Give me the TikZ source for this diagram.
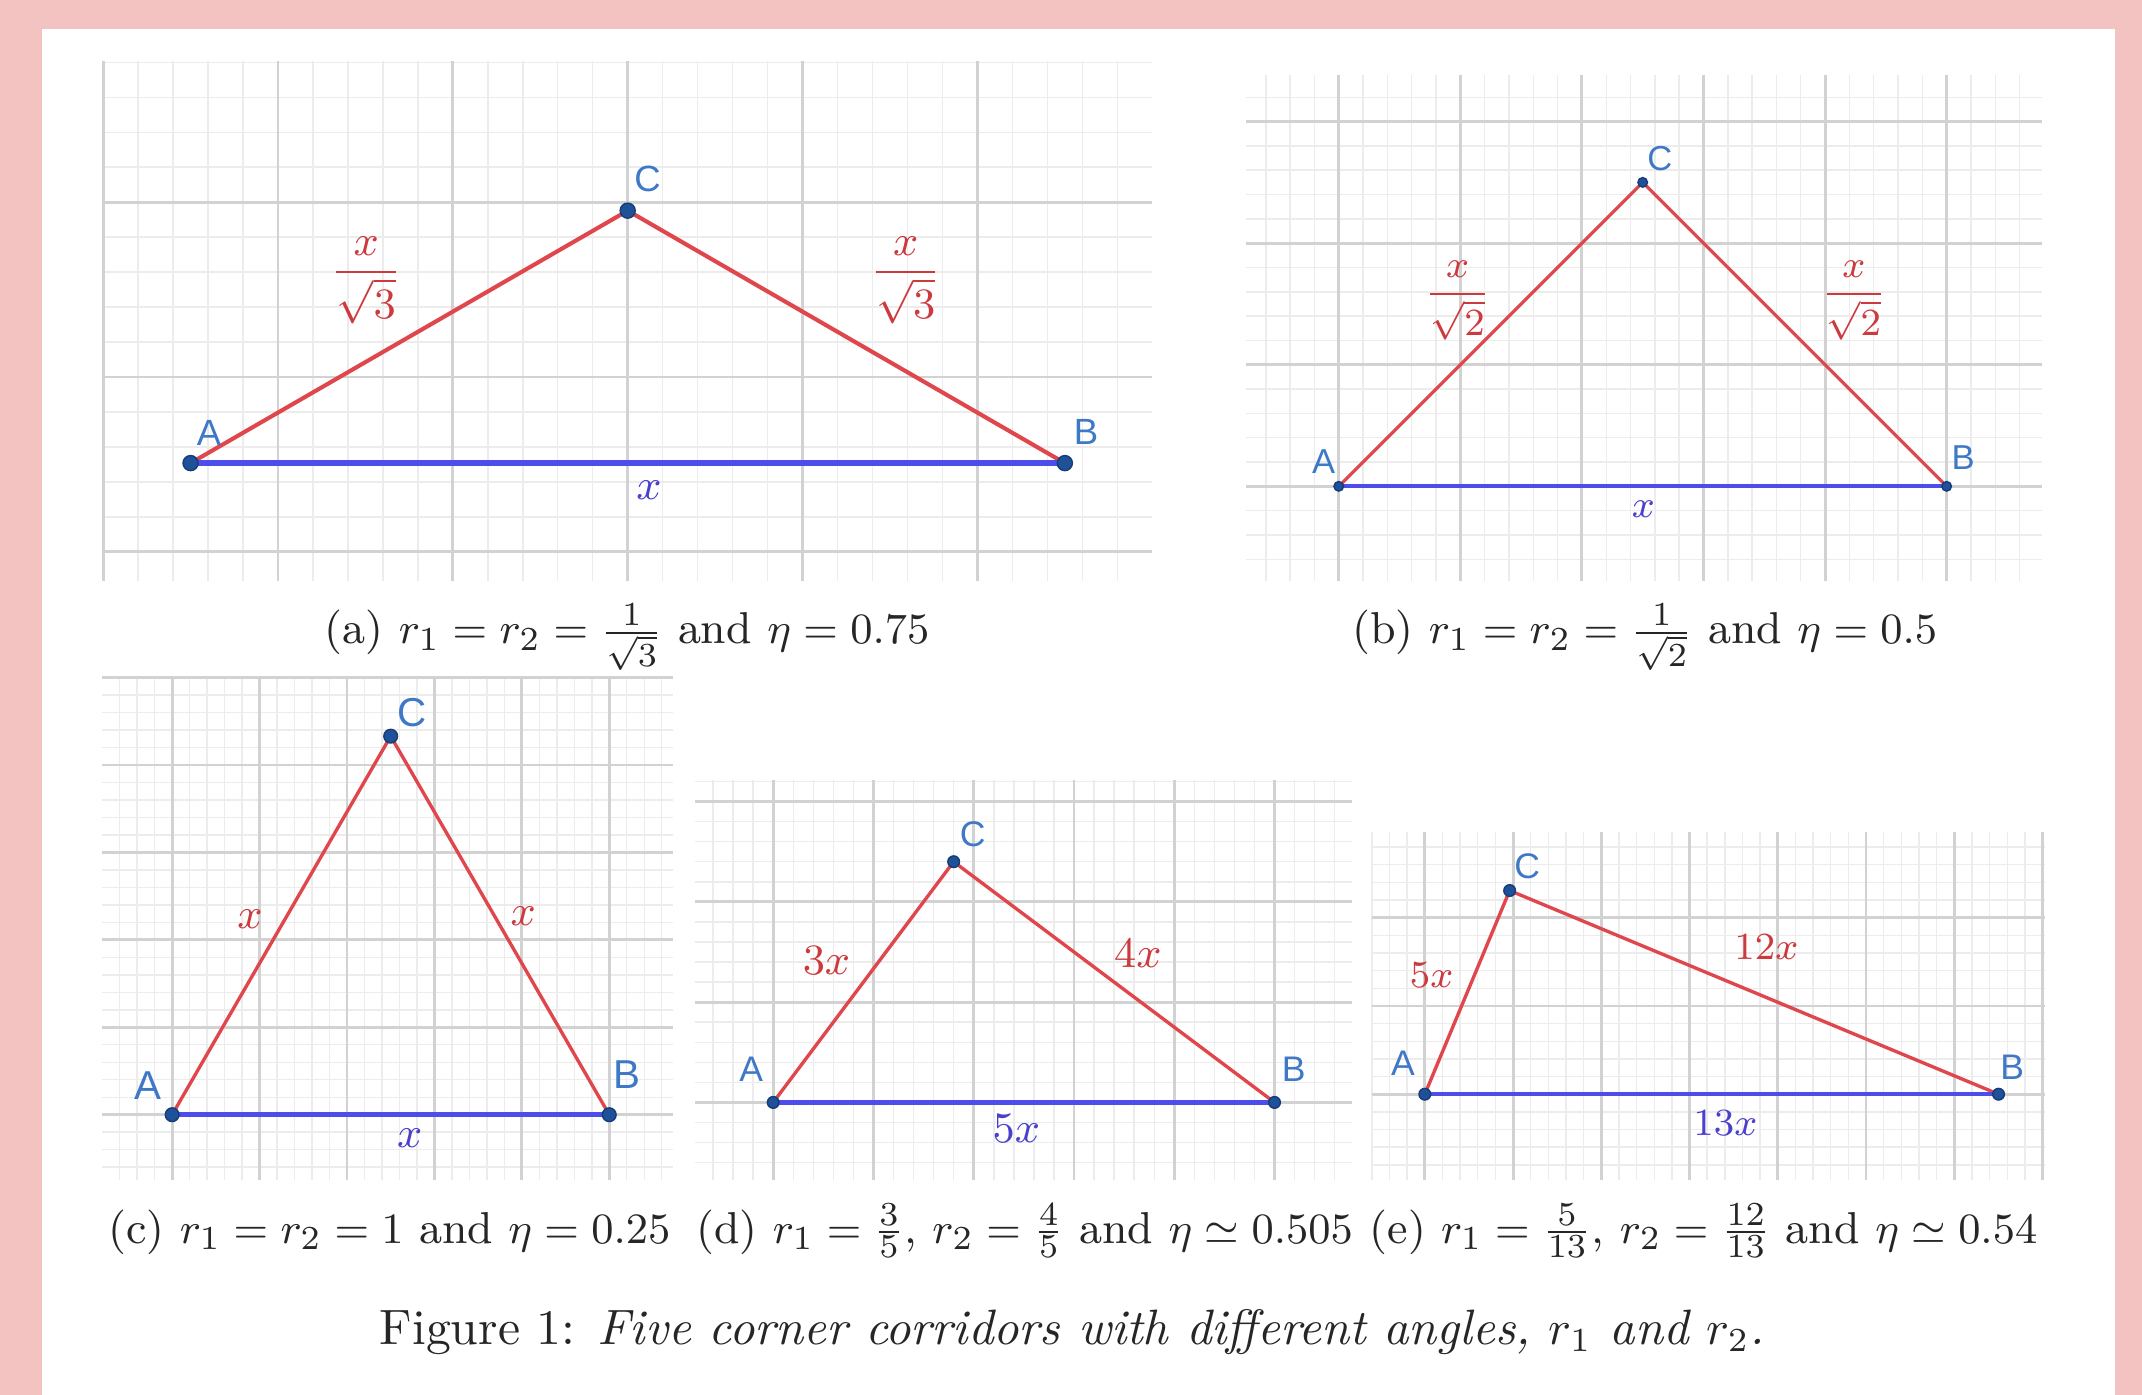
\documentclass[tikz,border=0pt]{standalone}
\usepackage{fontspec}
\usepackage{amsmath}
\newfontfamily\labfont{Liberation Sans}
\definecolor{bgpink}{HTML}{F3C3C1}
\definecolor{majgrid}{HTML}{D2D2D2}
\definecolor{mingrid}{HTML}{ECECEC}
\definecolor{redline}{HTML}{E0474C}
\definecolor{blueline}{HTML}{4D4DEB}
\definecolor{dotblue}{HTML}{1F5199}
\definecolor{dotedge}{HTML}{163D78}
\definecolor{labblue}{HTML}{3F78C6}
\definecolor{redtext}{HTML}{CC3A3E}
\definecolor{bluetext}{HTML}{4A40CC}
\definecolor{captext}{HTML}{262626}
\tikzset{
  mingridline/.style={draw=mingrid, line width=0.3pt},
  majgridline/.style={draw=majgrid, line width=0.6pt},
  sideline/.style={draw=redline, line width=#1},
  sideline/.default=0.75pt,
  baseln/.style={draw=blueline, line width=#1},
  baseln/.default=0.9pt,
  vdot/.style={circle, fill=dotblue, draw=dotedge, line width=0.3pt, inner sep=0pt, minimum size=#1},
  vlab/.style={text=labblue, font=\labfont\fontsize{#1}{#1}\selectfont, inner sep=0pt},
  rlab/.style={text=redtext, font=\fontsize{#1}{#1}\selectfont, inner sep=0pt},
  blab/.style={text=bluetext, font=\fontsize{#1}{#1}\selectfont, inner sep=0pt},
  captxt/.style={text=captext, font=\fontsize{9.3}{11.2}\selectfont, inner sep=0pt, anchor=base},
  figcap/.style={text=captext, font=\fontsize{10.35}{12.4}\selectfont, inner sep=0pt, anchor=base}
}
\newcommand{\gpGrid}[7]{%
  \pgfmathsetmacro{\gpM}{#7/5}%
  \pgfmathtruncatemacro{\gpA}{ceil((#1-#5)/\gpM)}%
  \pgfmathtruncatemacro{\gpB}{floor((#2-#5)/\gpM)}%
  \pgfmathtruncatemacro{\gpC}{ceil((#3-#6)/\gpM)}%
  \pgfmathtruncatemacro{\gpD}{floor((#4-#6)/\gpM)}%
  \foreach \k in {\gpA,...,\gpB}{\draw[mingridline] ({#5+\k*\gpM},#3) -- ({#5+\k*\gpM},#4);}%
  \foreach \k in {\gpC,...,\gpD}{\draw[mingridline] (#1,{#6+\k*\gpM}) -- (#2,{#6+\k*\gpM});}%
  \pgfmathtruncatemacro{\gpA}{ceil((#1-#5)/#7)}%
  \pgfmathtruncatemacro{\gpB}{floor((#2-#5)/#7)}%
  \pgfmathtruncatemacro{\gpC}{ceil((#3-#6)/#7)}%
  \pgfmathtruncatemacro{\gpD}{floor((#4-#6)/#7)}%
  \foreach \k in {\gpA,...,\gpB}{\draw[majgridline] ({#5+\k*#7},#3) -- ({#5+\k*#7},#4);}%
  \foreach \k in {\gpC,...,\gpD}{\draw[majgridline] (#1,{#6+\k*#7}) -- (#2,{#6+\k*#7});}%
}
\begin{document}
\begin{tikzpicture}[x=0.01cm, y=-0.01cm]
\useasboundingbox (0,0) rectangle (1568,1021);
\fill[bgpink] (0,0) rectangle (1568,1021);
\fill[white] (31,21.5) rectangle (1548,1021);

% ---------- panel (a)
\gpGrid{75}{843}{45}{425}{203.5}{148}{128}
\coordinate (aA) at (139.5,339);
\coordinate (aB) at (779.5,339);
\coordinate (aC) at (459.5,154.2);
\draw[sideline=0.85pt] (aA) -- (aC) -- (aB);
\draw[baseln=1.15pt] (aA) -- (aB);
\node[vdot=0.11cm] (aAd) at (aA) {};
\node[vdot=0.11cm] (aBd) at (aB) {};
\node[vdot=0.11cm] (aCd) at (aC) {};
\node[vlab=7.6] (aAl) at (153,317) {A};
\node[vlab=7.6] (aBl) at (795,316) {B};
\node[vlab=7.6] (aCl) at (474,131) {C};
\node[rlab=9.4] (aL1) at (268,205) {$\dfrac{x}{\sqrt{3}}$};
\node[rlab=9.4] (aL2) at (663,205) {$\dfrac{x}{\sqrt{3}}$};
\node[blab=9.4] (aL3) at (475,359) {$x$};

% ---------- panel (b)
\gpGrid{912}{1495}{55}{425}{980}{356}{89}
\coordinate (bA) at (980,356);
\coordinate (bB) at (1425,356);
\coordinate (bC) at (1202.5,133.5);
\draw[sideline=0.65pt] (bA) -- (bC) -- (bB);
\draw[baseln=0.9pt] (bA) -- (bB);
\node[vdot=0.07cm] (bAd) at (bA) {};
\node[vdot=0.07cm] (bBd) at (bB) {};
\node[vdot=0.07cm] (bCd) at (bC) {};
\node[vlab=7.2] (bAl) at (969,338) {A};
\node[vlab=7.2] (bBl) at (1437,335) {B};
\node[vlab=7.2] (bCl) at (1215,116) {C};
\node[rlab=8.4] (bL1) at (1067,220) {$\dfrac{x}{\sqrt{2}}$};
\node[rlab=8.4] (bL2) at (1357,220) {$\dfrac{x}{\sqrt{2}}$};
\node[blab=8.4] (bL3) at (1203,373) {$x$};

% ---------- panel (c)
\gpGrid{75}{493}{495}{864}{126}{816}{64}
\coordinate (cA) at (126,816);
\coordinate (cB) at (446,816);
\coordinate (cC) at (286,538.9);
\draw[sideline=0.7pt] (cA) -- (cC) -- (cB);
\draw[baseln=1.1pt] (cA) -- (cB);
\node[vdot=0.1cm] (cAd) at (cA) {};
\node[vdot=0.1cm] (cBd) at (cB) {};
\node[vdot=0.1cm] (cCd) at (cC) {};
\node[vlab=8.4] (cAl) at (108,795) {A};
\node[vlab=8.4] (cBl) at (459,787) {B};
\node[vlab=8.4] (cCl) at (302,522) {C};
\node[rlab=9] (cL1) at (183,673) {$x$};
\node[rlab=9] (cL2) at (383,671) {$x$};
\node[blab=9] (cL3) at (300,833) {$x$};

% ---------- panel (d)
\gpGrid{509}{990}{571}{864}{566}{807}{73.4}
\coordinate (dA) at (566,807);
\coordinate (dB) at (933,807);
\coordinate (dC) at (698.1,630.8);
\draw[sideline=0.7pt] (dA) -- (dC) -- (dB);
\draw[baseln=0.9pt] (dA) -- (dB);
\node[vdot=0.085cm] (dAd) at (dA) {};
\node[vdot=0.085cm] (dBd) at (dB) {};
\node[vdot=0.085cm] (dCd) at (dC) {};
\node[vlab=7.4] (dAl) at (550,783) {A};
\node[vlab=7.4] (dBl) at (947,783) {B};
\node[vlab=7.4] (dCl) at (712,611) {C};
\node[rlab=8.8] (dL1) at (605,703) {$3x$};
\node[rlab=8.8] (dL2) at (833,698) {$4x$};
\node[blab=8.8] (dL3) at (744,826) {$5x$};

% ---------- panel (e)
\gpGrid{1004}{1497}{609}{864}{1043}{801}{64.6}
\coordinate (eA) at (1043,801);
\coordinate (eB) at (1463,801);
\coordinate (eC) at (1105.1,651.9);
\draw[sideline=0.7pt] (eA) -- (eC) -- (eB);
\draw[baseln=0.9pt] (eA) -- (eB);
\node[vdot=0.085cm] (eAd) at (eA) {};
\node[vdot=0.085cm] (eBd) at (eB) {};
\node[vdot=0.085cm] (eCd) at (eC) {};
\node[vlab=7.4] (eAl) at (1027,778) {A};
\node[vlab=7.4] (eBl) at (1473,781) {B};
\node[vlab=7.4] (eCl) at (1118,634) {C};
\node[rlab=8.4] (eL1) at (1048,714) {$5x$};
\node[rlab=8.4] (eL2) at (1293,693) {$12x$};
\node[blab=8.4] (eL3) at (1263,822) {$13x$};

% ---------- captions
\node[captxt] (capa) at (459,471) {(a) $r_1 = r_2 = \frac{1}{\sqrt{3}}$ and $\eta = 0.75$};
\node[captxt] (capb) at (1204,471) {(b) $r_1 = r_2 = \frac{1}{\sqrt{2}}$ and $\eta = 0.5$};
\node[captxt] (capc) at (285,910) {(c) $r_1 = r_2 = 1$ and $\eta = 0.25$};
\node[captxt] (capd) at (750,910) {(d) $r_1 = \frac{3}{5}$, $r_2 = \frac{4}{5}$ and $\eta \simeq 0.505$};
\node[captxt] (cape) at (1247,910) {(e) $r_1 = \frac{5}{13}$, $r_2 = \frac{12}{13}$ and $\eta \simeq 0.54$};
\node[figcap] (capf) at (785,984) {Figure 1: \textit{Five corner corridors with different angles, $r_1$ and $r_2$.}};
\end{tikzpicture}
\end{document}
